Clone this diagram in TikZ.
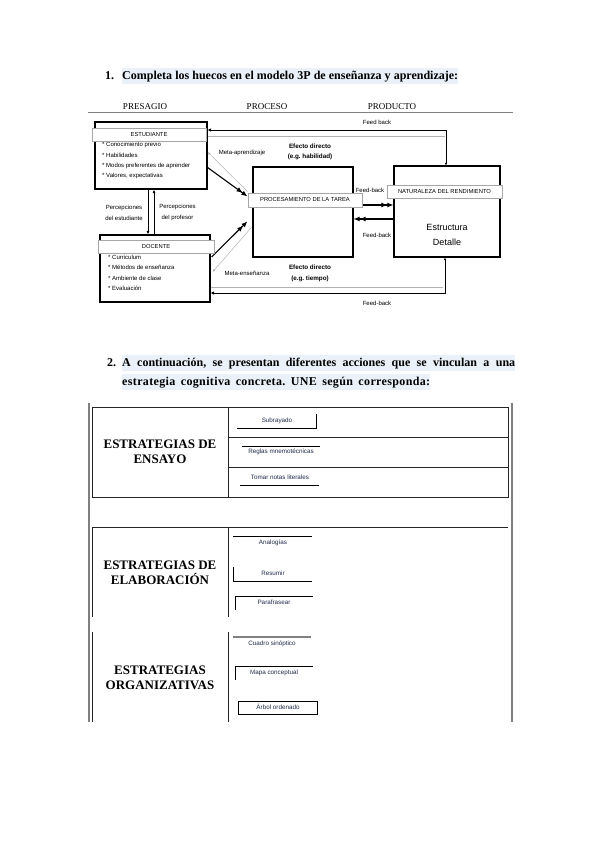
\documentclass[tikz,border=0pt]{standalone}
\usepackage{fontspec}
\setmainfont{Liberation Serif}
\setsansfont{Liberation Sans}
\usetikzlibrary{positioning, arrows.meta, calc}
\definecolor{hilite}{HTML}{EAF1F8}
\definecolor{navy}{HTML}{1F2A48}
\frenchspacing

\begin{document}
\begin{tikzpicture}[x=1pt,y=-1pt,
    box/.style={draw, line width=1.2pt, inner sep=0pt},
    strip/.style={draw=gray!70, fill=white, line width=0.4pt, inner sep=0pt,
        minimum height=12.5pt, font=\sffamily\fontsize{5.8}{7}\selectfont},
    small/.style={font=\sffamily\fontsize{6}{10.3}\selectfont, inner sep=0pt},
    bsmall/.style={small, font=\sffamily\bfseries\fontsize{6.3}{10.5}\selectfont, align=center},
    arr/.style={-{Latex[length=3.5pt,width=3pt]}, line width=0.7pt},
    garr/.style={-{Latex[length=3pt,width=2.5pt]}, line width=0.5pt, gray!60},
    bigarr/.style={-{Latex[length=6pt,width=5pt] Latex[length=6pt,width=5pt]}, line width=1.1pt},
    title/.style={font=\bfseries\fontsize{12}{14}\selectfont, inner xsep=0pt,
        inner ysep=0pt, text height=11.5pt, text depth=4pt, anchor=west},
    tlabel/.style={font=\bfseries\fontsize{13}{14.5}\selectfont, align=center, inner sep=0pt},
    opt/.style={font=\sffamily\fontsize{6.3}{7}\selectfont, text=navy, inner sep=0pt},
    tline/.style={line width=1pt, black!85},
    oline/.style={line width=0.9pt}
]
\useasboundingbox (0,0) rectangle (599,848);

% Section 1 heading
\node[title] (n1) at (105,76) {1.};
\node[title, fill=hilite] (h1) at (122,76)
    {\makebox[336pt][s]{Completa los huecos en el modelo 3P de enseñanza y aprendizaje:}};

% Column headers
\node[font=\fontsize{9}{10}\selectfont, inner sep=0pt] (pres) at (145,107) {PRESAGIO};
\node[font=\fontsize{9}{10}\selectfont, inner sep=0pt] (proce) at (267,107) {PROCESO};
\node[font=\fontsize{9}{10}\selectfont, inner sep=0pt] (produ) at (392,107) {PRODUCTO};
\draw[gray, line width=0.8pt] (88,112.7) -- (513,112.7);

% Boxes
\node[box, minimum width=112pt, minimum height=67pt] (est) at (151,155.5) {};
\node[box, minimum width=110pt, minimum height=67pt] (doc) at (155,268.5) {};
\node[box, minimum width=100pt, minimum height=90pt] (proc) at (303,212) {};
\node[box, minimum width=106pt, minimum height=91pt] (prod) at (447,211.5) {};
\draw[line width=1.6pt] (est.north west) -- (est.north east);

% Lists
\foreach \t [count=\i] in {Conocimiento previo, Habilidades, Modos preferentes de aprender, {Valores, expectativas}}
    \node[small, anchor=west] (ei\i) at (102,135+10.2*\i) {* \t};
\foreach \t [count=\i] in {Curriculum, Métodos de enseñanza, Ambiente de clase, Evaluación}
    \node[small, anchor=west] (di\i) at (108,247+10.3*\i) {* \t};
\node[font=\sffamily\fontsize{9}{14.5}\selectfont, align=center, inner sep=0pt] (estr) at (447,235) {Estructura\\Detalle};

% Perceptions
\coordinate (pd) at ($(est.south)+(-3,0)$);
\coordinate (pu) at ($(est.south)+(3,0)$);
\draw[arr] (pd) -- (pd |- doc.north);
\draw[arr] (pu |- doc.north) -- (pu);
\node[small, align=center, font=\sffamily\fontsize{6}{11}\selectfont] (pest) at (124,212.5) {Percepciones\\del estudiante};
\node[small, align=center, font=\sffamily\fontsize{6}{11}\selectfont] (pprof) at (177.5,212.5) {Percepciones\\del profesor};

% Feed back top and bottom
\coordinate (fbT) at (446,130);
\coordinate (gT) at (445,136.5);
\coordinate (fbB) at (445,293);
\coordinate (gB) at (443,287);
\draw[{Latex[length=2.5pt,width=2.5pt]}-{Latex[length=3.5pt,width=3.5pt]}, line width=0.7pt]
    (prod.north -| fbT) -- (fbT) -- (est.east |- fbT);
\draw[gray!60, line width=0.5pt] (est.east |- gT) -- (gT);
\draw[{Latex[length=2.5pt,width=2.5pt]}-{Latex[length=3.5pt,width=3.5pt]}, line width=0.7pt]
    (prod.south -| fbB) -- (fbB) -- (doc.east |- fbB);
\draw[gray!60, line width=0.5pt] (doc.east |- gB) -- (gB);
\node[small] (fb1) at (377,122) {Feed back};
\node[small] (fb4) at (377,303) {Feed-back};

% Meta arrows
\draw[bigarr] ($(est.east)+(0,12)$) -- ($(proc.north west)+(-5,30)$);
\draw[garr] ($(proc.north west)+(-5,25)$) -- ($(est.east)+(0,-3.5)$);
\draw[bigarr] ($(doc.east)+(1,-11.5)$) -- ($(proc.north west)+(-5,55)$);
\draw[garr] ($(proc.north west)+(-1,61)$) -- ($(doc.east)+(2,3.5)$);
\node[small] (meta1) at (242,153) {Meta-aprendizaje};
\node[small] (meta2) at (247,273) {Meta-enseñanza};
\node[bsmall] (ef1) at (310,152) {Efecto directo\\(e.g. habilidad)};
\node[bsmall] (ef2) at (310,273.5) {Efecto directo\\(e.g. tiempo)};

% Middle feed-back
\coordinate (m1) at ($(proc.east)+(0,-7)$);
\coordinate (m2) at ($(prod.west)+(0,7.5)$);
\draw[bigarr] (m1) -- (m1 -| prod.west);
\draw[bigarr] (m2) -- (m2 -| proc.east);
\node[small] (fb2) at (370,190) {Feed-back};
\node[small] (fb3) at (377,235) {Feed-back};

% Strips
\node[strip, minimum width=114pt] (estl) at (149,134.5) {ESTUDIANTE};
\node[strip, minimum width=116pt] (docl) at (156,246.5) {DOCENTE};
\node[strip, minimum width=114pt, minimum height=13.5pt] (procl) at (305,200) {PROCESAMIENTO DE LA TAREA};
\node[strip, minimum width=115pt, minimum height=13pt] (prodl) at (444.5,191.5) {NATURALEZA DEL RENDIMIENTO};

% Section 2 heading
\node[title] (n2) at (107,363) {2.};
\node[title, fill=hilite] (h2a) at (122,363)
    {\makebox[393pt][s]{A continuación, se presentan diferentes acciones que se vinculan a una}};
\node[title, fill=hilite] (h2b) at (122,382)
    {\addfontfeature{LetterSpace=3}\makebox[308pt][s]{estrategia cognitiva concreta. UNE según corresponda:}};

% Table
\draw[gray, line width=1.2pt] (89,403) -- (89,722);
\draw[gray, line width=1.2pt] (512,403) -- (512,722);
\draw[tline] (92,407) rectangle (508,497);
\draw[tline] (228,407) -- (228,497);
\draw[tline] (228,437) -- (508,437);
\draw[tline] (228,467) -- (508,467);
\draw[tline] (92,527) -- (508,527);
\draw[tline] (92,527) -- (92,617);
\draw[tline] (228,527) -- (228,617);
\draw[tline] (92,632) -- (92,722);
\draw[tline] (228,632) -- (228,722);

\node[tlabel] (ensayo) at (160,452) {ESTRATEGIAS DE\\ENSAYO};
\node[tlabel] (elab) at (160,573) {ESTRATEGIAS DE\\ELABORACIÓN};
\node[tlabel] (orga) at (160,678) {ESTRATEGIAS\\ORGANIZATIVAS};

% Options
\node[opt] (o1) at (277,421) {Subrayado};
\draw[oline] (237,428) -- (316,428) -- (316,414);
\node[opt] (o2) at (281,452) {Reglas mnemotécnicas};
\draw[oline] (242,446) -- (320,446);
\node[opt] (o3) at (280,477) {Tomar notas literales};
\draw[oline] (240,485) -- (319,485);
\node[opt] (o4) at (273,543) {Analogías};
\draw[oline] (233,536) -- (312,536);
\node[opt] (o5) at (273,573) {Resumir};
\draw[oline] (233,567) -- (233,581) -- (312,581);
\node[opt] (o6) at (274,602) {Parafrasear};
\draw[oline] (235,610) -- (235,596) -- (313,596);
\node[opt] (o7) at (272,644) {Cuadro sinóptico};
\draw[oline, gray, line width=1.2pt] (233,637) -- (311,637);
\node[opt] (o8) at (274,673) {Mapa conceptual};
\draw[oline] (235,680) -- (235,666) -- (313,666);
\node[opt] (o9) at (278,707) {Árbol ordenado};
\draw[oline] (238,701) rectangle (317,714);
\end{tikzpicture}
\end{document}
